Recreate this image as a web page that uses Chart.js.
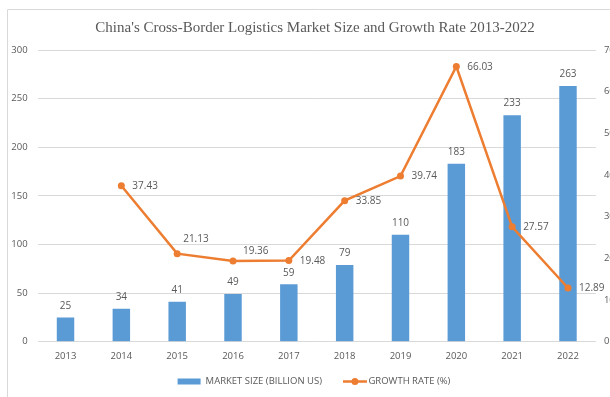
<!DOCTYPE html>
<html>
<head>
<meta charset="utf-8">
<title>China's Cross-Border Logistics Market</title>
<script src="https://cdn.jsdelivr.net/npm/chart.js@4/dist/chart.umd.min.js"></script>
<style>
  html, body { margin: 0; padding: 0; background: #fff; overflow: hidden; }
  #wrap { position: relative; width: 630px; height: 397px; }
</style>
</head>
<body>
<div id="wrap"><canvas id="logisticsChart"></canvas></div>
<script>
const years = ['2013', '2014', '2015', '2016', '2017', '2018', '2019', '2020', '2021', '2022'];
const marketSize = [25, 34, 41, 49, 59, 79, 110, 183, 233, 263];
const growthRate = [null, 37.43, 21.13, 19.36, 19.48, 33.85, 39.74, 66.03, 27.57, 12.89];

const BLUE = '#5B9BD5';
const ORANGE = '#ED7D31';
const TEXT = '#595959';
const GRID = '#d9d9d9';
const SANS = '"Open Sans"';

// a couple of growth labels sit above-right of their point instead of beside it
const labelNudge = { 2: [6, -14], 3: [10, -10] };

// thin outer frame
const frame = {
    id: 'frame',
    beforeDraw(chart) {
        const ctx = chart.ctx;
        ctx.save();
        ctx.strokeStyle = GRID;
        ctx.lineWidth = 1;
        ctx.beginPath();
        ctx.moveTo(7.5, chart.height);
        ctx.lineTo(7.5, 9.5);
        ctx.lineTo(chart.width, 9.5);
        ctx.stroke();
        ctx.restore();
    }
};

// value labels over the bars and beside the line points
const valueLabels = {
    id: 'valueLabels',
    afterDatasetsDraw(chart) {
        const ctx = chart.ctx;
        ctx.save();
        ctx.font = '10px ' + SANS;
        ctx.fillStyle = TEXT;
        ctx.textBaseline = 'middle';

        ctx.textAlign = 'center';
        chart.getDatasetMeta(0).data.forEach((bar, i) => {
            ctx.fillText(String(marketSize[i]), bar.x, bar.y - 11.5);
        });

        ctx.textAlign = 'left';
        chart.getDatasetMeta(1).data.forEach((pt, i) => {
            if (growthRate[i] == null) return;
            const [dx, dy] = labelNudge[i] || [11, 0.5];
            ctx.fillText(growthRate[i].toFixed(2), pt.x + dx, pt.y + dy);
        });
        ctx.restore();
    }
};

// legend row under the axis: blue swatch, then orange line with a dot
const bottomLegend = {
    id: 'bottomLegend',
    afterDraw(chart) {
        const ctx = chart.ctx;
        const sets = chart.data.datasets;
        ctx.save();
        ctx.font = '9.5px ' + SANS;
        ctx.textBaseline = 'middle';
        ctx.textAlign = 'left';
        const t1 = ctx.measureText(sets[0].label).width;
        const t2 = ctx.measureText(sets[1].label).width;
        const total = 23 + 5 + t1 + 21 + 24 + 1.5 + t2;
        const y = 381.5;
        let x = 314 - total / 2;

        ctx.fillStyle = BLUE;
        ctx.fillRect(x, y - 3, 23, 6);
        x += 28;
        ctx.fillStyle = TEXT;
        ctx.fillText(sets[0].label, x, y);
        x += t1 + 21;

        ctx.strokeStyle = ORANGE;
        ctx.lineWidth = 2.5;
        ctx.beginPath();
        ctx.moveTo(x, y);
        ctx.lineTo(x + 24, y);
        ctx.stroke();
        ctx.fillStyle = ORANGE;
        ctx.beginPath();
        ctx.arc(x + 12, y, 3.5, 0, Math.PI * 2);
        ctx.fill();
        x += 25.5;
        ctx.fillStyle = TEXT;
        ctx.fillText(sets[1].label, x, y);
        ctx.restore();
    }
};

const ctx = document.getElementById('logisticsChart');

new Chart(ctx, {
    type: 'bar',
    data: {
        labels: years,
        datasets: [{
            label: 'MARKET SIZE (BILLION US)',
            data: marketSize,
            backgroundColor: BLUE,
            barPercentage: 0.313,
            categoryPercentage: 1,
            yAxisID: 'y',
            order: 2
        }, {
            type: 'line',
            label: 'GROWTH RATE (%)',
            data: growthRate,
            borderColor: ORANGE,
            backgroundColor: ORANGE,
            borderWidth: 2.5,
            pointRadius: 3.5,
            pointBorderWidth: 0,
            pointBackgroundColor: ORANGE,
            tension: 0,
            yAxisID: 'y1',
            order: 1
        }]
    },
    options: {
        responsive: true,
        maintainAspectRatio: false,
        animation: false,
        layout: {
            padding: { top: 0, bottom: 33.3, left: 0, right: 0 }
        },
        plugins: {
            title: {
                display: true,
                text: "China's Cross-Border Logistics Market Size and Growth Rate 2013-2022",
                color: TEXT,
                font: { family: '"Liberation Serif"', size: 15, weight: 'normal' },
                padding: { top: 19, bottom: 13 }
            },
            legend: { display: false },
            tooltip: { enabled: false }
        },
        scales: {
            x: {
                grid: { display: false, drawTicks: false },
                border: { display: false },
                ticks: { color: TEXT, font: { family: SANS, size: 9.5 }, padding: 8.5, maxRotation: 0 },
                afterFit: axis => { axis.height = 22; }
            },
            y: {
                position: 'left',
                min: 0,
                max: 300,
                ticks: { stepSize: 50, color: TEXT, font: { family: SANS, size: 9.5 }, padding: 10 },
                grid: { color: GRID, drawTicks: false },
                border: { display: false },
                afterFit: axis => { axis.width = 37.6; }
            },
            y1: {
                position: 'right',
                min: 0,
                max: 70,
                ticks: { stepSize: 10, color: TEXT, font: { family: SANS, size: 9.5 }, padding: 8 },
                grid: { display: false, drawTicks: false },
                border: { display: false },
                afterFit: axis => { axis.width = 34.1; }
            }
        }
    },
    plugins: [frame, valueLabels, bottomLegend]
});
</script>
</body>
</html>
